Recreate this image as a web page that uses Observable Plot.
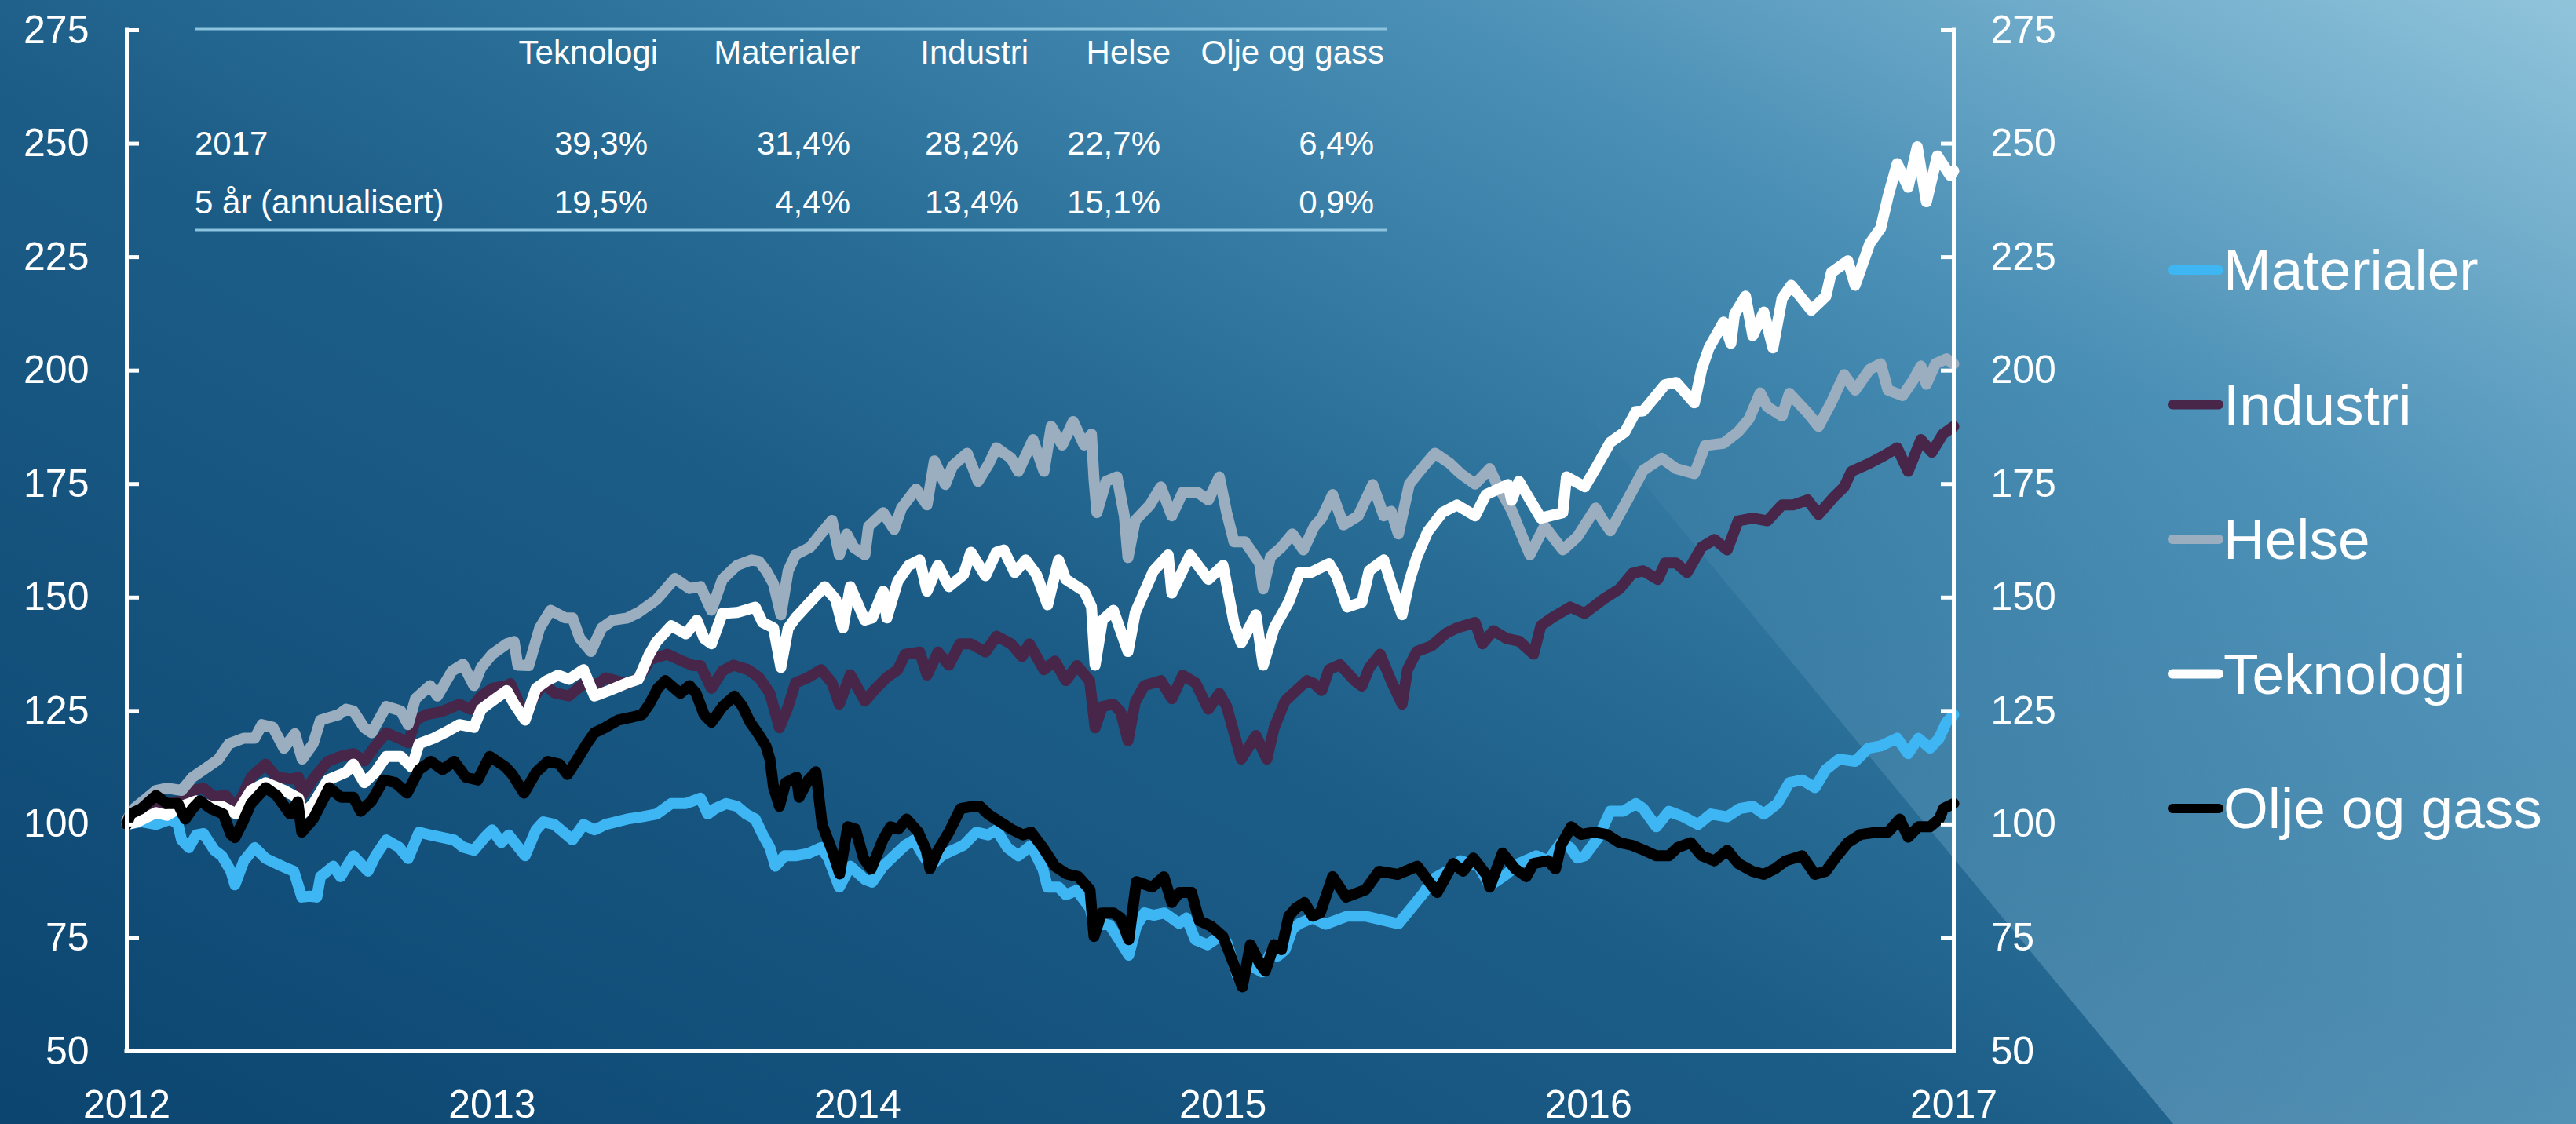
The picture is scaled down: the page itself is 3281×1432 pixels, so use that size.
<!DOCTYPE html>
<html>
<head>
<meta charset="utf-8">
<script src="https://cdn.jsdelivr.net/npm/d3@7"></script>
<script src="https://cdn.jsdelivr.net/npm/@observablehq/plot@0.6"></script>
<style>
html, body { margin: 0; padding: 0; }
body { width: 3281px; height: 1432px; overflow: hidden; }
#wrap {
  position: relative; width: 3281px; height: 1432px;
  background: linear-gradient(28deg, #0b4570 0%, #1c5d87 42%, #2a6f98 55%, #4a8fb6 75%, #90c4db 100%);
  font-family: "Liberation Sans", Arial, sans-serif;
}
#shade {
  position: absolute; left: 0; top: 0; width: 3281px; height: 1432px;
  clip-path: polygon(1585px 0px, 3281px 0px, 3281px 1432px, 2768px 1432px);
  background: linear-gradient(to bottom, rgba(150,200,228,0) 35%, rgba(150,200,228,0.38) 100%);
}
#chart, #overlay { position: absolute; left: 0; top: 0; }
</style>
</head>
<body>
<div id="wrap">
  <div id="shade"></div>
  <div id="chart"></div>
  <svg id="overlay" width="3281" height="1432"></svg>
</div>
<script>
// ---------- data ----------
const seriesNames = ["Materialer", "Industri", "Helse", "Teknologi", "Olje og gass"];
const seriesColors = ["#3fb6f4", "#47264a", "#9aaec0", "#ffffff", "#000000"];

const yTicks = [50, 75, 100, 125, 150, 175, 200, 225, 250, 275];
const xTicks = [2012, 2013, 2014, 2015, 2016, 2017];

const tableColumns = ["Teknologi", "Materialer", "Industri", "Helse", "Olje og gass"];
const tableRowLabels = ["2017", "5 år (annualisert)"];
const row2017 = ["39,3%", "31,4%", "28,2%", "22,7%", "6,4%"];
const row5aar = ["19,5%", "4,4%", "13,4%", "15,1%", "0,9%"];

const materialer = [[2012.00,100],[2012.04,100.6],[2012.08,100],[2012.12,101.2],[2012.14,100],[2012.15,96.6],[2012.17,94.9],[2012.19,97.7],[2012.21,98],[2012.24,94.3],[2012.26,93.1],[2012.285,89.7],[2012.296,86.7],[2012.32,91.9],[2012.35,94.9],[2012.38,92.5],[2012.425,90.8],[2012.457,89.7],[2012.479,84],[2012.50,84.2],[2012.52,84],[2012.53,88.5],[2012.565,90.8],[2012.585,88.5],[2012.62,93.1],[2012.66,89.7],[2012.68,93],[2012.71,96.6],[2012.745,95],[2012.77,92.5],[2012.80,98.3],[2012.83,97.7],[2012.86,97.2],[2012.895,96.6],[2012.92,95],[2012.95,94.3],[2012.98,97.2],[2013.00,98.8],[2013.025,96],[2013.045,97.7],[2013.09,93.1],[2013.12,98.8],[2013.14,100.6],[2013.17,100],[2013.195,98.3],[2013.22,96.6],[2013.25,100],[2013.28,98.8],[2013.31,100],[2013.37,101.2],[2013.41,101.7],[2013.45,102.3],[2013.49,104.6],[2013.53,104.6],[2013.55,105.2],[2013.57,105.8],[2013.59,102.3],[2013.61,103.5],[2013.64,104.6],[2013.67,104],[2013.695,102.3],[2013.72,101.2],[2013.74,97.8],[2013.76,94.9],[2013.775,90.8],[2013.80,93.1],[2013.83,93.1],[2013.865,93.6],[2013.90,94.9],[2013.92,92.6],[2013.95,86.2],[2013.98,90.8],[2014.02,87.9],[2014.04,87.3],[2014.07,90.8],[2014.10,93.1],[2014.13,95.4],[2014.155,96.6],[2014.18,93.1],[2014.20,90.8],[2014.23,93.1],[2014.26,94.3],[2014.29,95.4],[2014.325,98.3],[2014.357,97.7],[2014.38,98.8],[2014.41,94.9],[2014.44,93.1],[2014.475,95.4],[2014.507,90.2],[2014.52,86.2],[2014.55,86.2],[2014.57,84.5],[2014.60,85.5],[2014.636,81.6],[2014.65,77],[2014.67,78.2],[2014.69,77.8],[2014.72,74.1],[2014.742,71.2],[2014.763,77.6],[2014.785,80.5],[2014.81,80],[2014.84,80.5],[2014.88,78.2],[2014.90,79.4],[2014.924,74.6],[2014.957,73.5],[2014.99,75.3],[2015.01,74.1],[2015.04,66.5],[2015.075,68.9],[2015.107,67.5],[2015.127,71.2],[2015.15,71],[2015.17,72.4],[2015.19,77],[2015.21,78.2],[2015.245,79.4],[2015.28,78],[2015.34,79.8],[2015.39,79.8],[2015.48,78.1],[2015.55,85],[2015.573,87.9],[2015.62,90],[2015.65,92],[2015.70,90.8],[2015.73,86.5],[2015.775,89],[2015.81,91.4],[2015.857,93.1],[2015.89,92],[2015.925,96],[2015.95,94.9],[2015.97,92.6],[2015.99,93.1],[2016.027,97.1],[2016.06,102.9],[2016.095,102.9],[2016.13,104.6],[2016.15,103.5],[2016.186,99.5],[2016.22,102.9],[2016.26,101.7],[2016.30,100],[2016.335,102.3],[2016.38,101.7],[2016.414,103.5],[2016.45,104],[2016.48,102.3],[2016.517,104.6],[2016.55,109.2],[2016.585,109.8],[2016.62,108.1],[2016.65,112.1],[2016.686,114.4],[2016.73,113.9],[2016.766,116.8],[2016.80,117.3],[2016.845,119],[2016.875,115.6],[2016.903,119],[2016.935,116.8],[2016.96,119],[2016.98,122.5],[2017.00,124.2]];

const industri = [[2012.00,101.2],[2012.04,102],[2012.08,104],[2012.15,105.2],[2012.18,107.5],[2012.21,108],[2012.24,106],[2012.27,106.5],[2012.30,103.5],[2012.34,110.4],[2012.38,113.3],[2012.41,110.4],[2012.45,110],[2012.47,110.4],[2012.48,106.4],[2012.51,110],[2012.55,113.9],[2012.585,115],[2012.62,115.6],[2012.65,114],[2012.68,117.3],[2012.71,120.2],[2012.745,119],[2012.77,118],[2012.79,123],[2012.82,124.2],[2012.86,124.8],[2012.91,126.5],[2012.94,125.4],[2012.97,128.3],[2013.00,130],[2013.04,130.6],[2013.05,131],[2013.09,123.7],[2013.11,127.5],[2013.14,131],[2013.17,129],[2013.21,128.3],[2013.25,131],[2013.29,131],[2013.31,132.3],[2013.37,131],[2013.40,132.3],[2013.42,134.6],[2013.43,136.3],[2013.45,136.8],[2013.48,137.5],[2013.52,136],[2013.55,135],[2013.57,135],[2013.60,130],[2013.63,133.8],[2013.66,135.1],[2013.70,134.1],[2013.73,132.4],[2013.76,128.9],[2013.786,121.3],[2013.81,126],[2013.83,131.2],[2013.865,132.4],[2013.90,134.1],[2013.93,131.2],[2013.95,126.5],[2013.98,133],[2014.02,127.2],[2014.05,130],[2014.08,132.4],[2014.11,134.1],[2014.13,137.5],[2014.17,138],[2014.19,132.9],[2014.22,138],[2014.25,135.1],[2014.28,139.8],[2014.31,139.8],[2014.35,138],[2014.38,141.5],[2014.42,139.8],[2014.45,137],[2014.47,139.8],[2014.51,134.1],[2014.54,136],[2014.57,131.7],[2014.60,135],[2014.635,131.7],[2014.65,121.3],[2014.67,126],[2014.70,126.5],[2014.72,124.8],[2014.74,118.5],[2014.76,127],[2014.785,130.6],[2014.83,131.7],[2014.86,127.7],[2014.89,132.9],[2014.925,131.2],[2014.96,125.4],[2014.99,128.9],[2015.01,126],[2015.03,120.2],[2015.05,114.4],[2015.09,119.6],[2015.12,114.4],[2015.14,121.3],[2015.17,127.2],[2015.20,129.5],[2015.23,131.7],[2015.25,131],[2015.27,129.5],[2015.29,134.1],[2015.32,135.2],[2015.36,131.7],[2015.38,130.5],[2015.40,134.5],[2015.43,137.5],[2015.46,131.7],[2015.49,126.5],[2015.505,134.1],[2015.53,138.1],[2015.57,139.3],[2015.61,142.1],[2015.64,143.3],[2015.69,144.5],[2015.71,139.8],[2015.74,142.7],[2015.775,141],[2015.81,140.4],[2015.85,137.5],[2015.87,143.8],[2015.90,145.5],[2015.95,147.9],[2015.99,146.5],[2016.04,149.6],[2016.085,151.9],[2016.12,155.3],[2016.15,155.9],[2016.19,154],[2016.21,157.6],[2016.24,157.6],[2016.27,155.5],[2016.31,161.1],[2016.345,162.8],[2016.38,160.5],[2016.41,166.9],[2016.45,167.5],[2016.49,166.9],[2016.53,170.4],[2016.56,170.4],[2016.60,171.5],[2016.63,168.3],[2016.67,172],[2016.70,174.4],[2016.72,177.8],[2016.77,179.6],[2016.81,181.3],[2016.845,183],[2016.875,177.8],[2016.91,184.8],[2016.94,182],[2016.97,186],[2017.00,187.7]];

const helse = [[2012.00,101],[2012.02,103.5],[2012.08,107.5],[2012.11,108],[2012.15,107.5],[2012.18,110.4],[2012.22,112.6],[2012.25,114.3],[2012.28,117.8],[2012.32,119],[2012.35,119],[2012.37,122],[2012.40,121.4],[2012.43,116.8],[2012.46,120],[2012.48,114.4],[2012.51,117.8],[2012.53,123],[2012.58,124.2],[2012.60,125.4],[2012.62,125],[2012.65,121.3],[2012.67,120.2],[2012.71,126],[2012.75,125],[2012.77,122],[2012.79,127.7],[2012.83,130.6],[2012.85,128.3],[2012.89,133.8],[2012.92,135.3],[2012.95,130.6],[2012.97,134.6],[2013.00,137.5],[2013.04,139.8],[2013.06,140.3],[2013.07,135.1],[2013.10,135],[2013.13,143.3],[2013.16,147.2],[2013.20,145.5],[2013.22,145.5],[2013.24,141],[2013.27,138.1],[2013.30,143.3],[2013.33,145],[2013.37,145.5],[2013.40,146.7],[2013.43,148.4],[2013.45,149.6],[2013.47,151.4],[2013.50,154.2],[2013.54,152],[2013.57,152.4],[2013.60,147.2],[2013.63,154],[2013.67,157.1],[2013.71,158.3],[2013.73,158],[2013.75,155.9],[2013.77,153],[2013.79,146.2],[2013.81,155.9],[2013.83,159.4],[2013.87,161.1],[2013.90,164.1],[2013.93,167],[2013.95,159.4],[2013.97,164],[2013.99,161],[2014.02,159.4],[2014.03,165.7],[2014.07,168.7],[2014.10,165],[2014.12,169.7],[2014.16,173.9],[2014.19,170.4],[2014.21,180.1],[2014.24,174.9],[2014.26,179],[2014.30,181.8],[2014.33,175.6],[2014.36,179.6],[2014.38,183],[2014.42,180.7],[2014.44,177.8],[2014.48,184.8],[2014.51,177.8],[2014.53,187.7],[2014.56,183.6],[2014.59,188.8],[2014.62,183.6],[2014.64,186],[2014.647,176.1],[2014.655,168.7],[2014.68,175.6],[2014.71,176.6],[2014.73,168],[2014.74,158.8],[2014.76,167],[2014.80,170.4],[2014.83,174.4],[2014.86,168],[2014.89,173.2],[2014.93,173.2],[2014.96,171.5],[2014.99,176.6],[2015.01,168.7],[2015.03,162.3],[2015.06,162.3],[2015.10,157.6],[2015.11,151.9],[2015.13,159],[2015.16,161.1],[2015.19,164],[2015.22,160.5],[2015.25,165.7],[2015.27,167.5],[2015.30,172.7],[2015.33,166],[2015.37,168],[2015.41,174.9],[2015.44,168],[2015.46,169],[2015.48,164],[2015.51,175],[2015.55,179],[2015.58,181.8],[2015.62,179.6],[2015.65,177.3],[2015.69,175],[2015.73,178.4],[2015.75,174.9],[2015.77,172.1],[2015.79,169.2],[2015.81,165.2],[2015.84,159.4],[2015.88,165.7],[2015.93,160.5],[2015.97,163.4],[2016.02,169.7],[2016.04,167],[2016.06,164.7],[2016.11,172],[2016.15,178],[2016.20,180.7],[2016.24,178.4],[2016.29,177.3],[2016.32,183.5],[2016.37,184],[2016.41,186.5],[2016.44,189.4],[2016.47,195.1],[2016.49,192],[2016.53,190],[2016.55,195],[2016.60,190.7],[2016.63,187.7],[2016.665,193],[2016.70,199.1],[2016.73,195.7],[2016.77,200.3],[2016.80,201.5],[2016.82,195.7],[2016.86,194.5],[2016.89,198],[2016.91,201],[2016.925,197],[2016.95,201.5],[2016.98,202.6],[2017.00,201.5]];

const teknologi = [[2012.00,100],[2012.03,100.6],[2012.08,102.6],[2012.11,102],[2012.15,104],[2012.19,105.2],[2012.23,104],[2012.26,104],[2012.30,102.3],[2012.34,107.5],[2012.38,109.2],[2012.43,107.5],[2012.47,105.8],[2012.48,102.3],[2012.51,104.5],[2012.55,109.8],[2012.60,111.5],[2012.62,113.3],[2012.65,109.2],[2012.68,111.5],[2012.71,115],[2012.75,115],[2012.78,112.6],[2012.80,117.8],[2012.84,119],[2012.87,120.2],[2012.91,122],[2012.95,121.4],[2012.97,125.4],[2013.00,127.2],[2013.04,129.5],[2013.06,126.6],[2013.09,123],[2013.12,130],[2013.15,131.7],[2013.18,132.9],[2013.21,132],[2013.25,134.1],[2013.28,128.3],[2013.32,129.5],[2013.37,131.2],[2013.40,132],[2013.43,137.5],[2013.45,140.3],[2013.49,143.8],[2013.53,142],[2013.56,145],[2013.58,141],[2013.60,139.8],[2013.63,146.5],[2013.67,146.7],[2013.72,147.9],[2013.74,144.5],[2013.77,143.3],[2013.79,134.6],[2013.81,143.3],[2013.83,145.5],[2013.87,149],[2013.91,152.4],[2013.94,149.6],[2013.96,143.3],[2013.98,152.4],[2014.02,145],[2014.04,145.5],[2014.07,151.4],[2014.08,145.5],[2014.11,153.6],[2014.14,157.1],[2014.17,158.3],[2014.19,151.4],[2014.22,157.1],[2014.25,152.4],[2014.29,155],[2014.31,160],[2014.35,154.8],[2014.38,160],[2014.40,160.5],[2014.43,155.5],[2014.46,158.3],[2014.49,155],[2014.52,148.4],[2014.55,158.3],[2014.57,154],[2014.62,151.4],[2014.64,148],[2014.65,135.1],[2014.67,145],[2014.70,147.2],[2014.74,138.1],[2014.76,146.7],[2014.81,155.9],[2014.85,159.4],[2014.86,151],[2014.91,159.4],[2014.96,154],[2015.00,157.1],[2015.03,144.5],[2015.05,140],[2015.09,146.2],[2015.11,135.1],[2015.14,143.3],[2015.18,149],[2015.21,155.5],[2015.24,155.5],[2015.29,157.5],[2015.31,154.8],[2015.34,147.9],[2015.38,149],[2015.40,155.9],[2015.44,158.3],[2015.46,153.1],[2015.49,146.2],[2015.51,153.6],[2015.53,158.8],[2015.56,164.5],[2015.60,168.7],[2015.64,170.4],[2015.69,168],[2015.72,172.7],[2015.78,174.9],[2015.79,171.4],[2015.81,175.6],[2015.87,167.5],[2015.93,168.7],[2015.94,176.6],[2015.99,174.4],[2016.02,178.5],[2016.06,184.2],[2016.10,186.5],[2016.13,191],[2016.15,191.1],[2016.21,196.9],[2016.24,197.4],[2016.29,192.9],[2016.31,200.3],[2016.33,205],[2016.37,210.7],[2016.39,206],[2016.40,212.4],[2016.43,216.4],[2016.45,207.7],[2016.48,212.9],[2016.505,205],[2016.53,215.9],[2016.555,218.8],[2016.61,213.3],[2016.65,216.4],[2016.665,221.6],[2016.71,224.2],[2016.73,218.8],[2016.77,228],[2016.80,231.4],[2016.82,238.3],[2016.845,245.6],[2016.875,240.4],[2016.90,249.3],[2016.925,237.2],[2016.955,247.3],[2016.99,243],[2017.00,244]];

const oljeOgGass = [[2012.00,100],[2012.01,102.3],[2012.04,103.5],[2012.08,106.4],[2012.11,104.6],[2012.14,104.6],[2012.16,101.2],[2012.18,103.5],[2012.20,105.2],[2012.23,103.5],[2012.264,102.3],[2012.285,97.8],[2012.296,97.1],[2012.318,100.6],[2012.34,104.6],[2012.38,108.1],[2012.41,106.4],[2012.447,102.3],[2012.468,105],[2012.479,98.3],[2012.51,101.2],[2012.554,108.1],[2012.586,106],[2012.62,106],[2012.64,102.9],[2012.67,105.2],[2012.703,109.8],[2012.735,109.2],[2012.767,106.9],[2012.80,112.1],[2012.832,113.9],[2012.864,112.1],[2012.896,113.9],[2012.928,110.4],[2012.96,109.8],[2012.993,115],[2013.036,112.7],[2013.055,111],[2013.087,106.9],[2013.12,111.5],[2013.152,113.9],[2013.184,113.3],[2013.206,111],[2013.238,115],[2013.259,117.8],[2013.28,120.2],[2013.31,121.4],[2013.345,123],[2013.38,123.6],[2013.41,124.2],[2013.43,126.5],[2013.453,130],[2013.474,131.7],[2013.49,130.6],[2013.515,128.9],[2013.54,130.6],[2013.558,128.9],[2013.58,124.2],[2013.60,122.5],[2013.631,126],[2013.663,128.3],[2013.685,126],[2013.706,122.5],[2013.728,120],[2013.749,117.3],[2013.76,114.4],[2013.77,108.2],[2013.786,104],[2013.803,109.2],[2013.833,110.4],[2013.84,106],[2013.865,109.8],[2013.886,111.6],[2013.903,100],[2013.93,94.3],[2013.951,89.1],[2013.973,99.5],[2013.994,99],[2014.016,92.6],[2014.037,90.2],[2014.069,96.6],[2014.09,99.5],[2014.112,99],[2014.134,101.2],[2014.166,98.3],[2014.188,94.3],[2014.198,90.2],[2014.22,94.3],[2014.25,98.3],[2014.282,103.5],[2014.314,104],[2014.335,104],[2014.357,102.3],[2014.389,100.6],[2014.42,99],[2014.453,97.7],[2014.475,98.3],[2014.507,94.9],[2014.54,90.8],[2014.572,89.1],[2014.604,88.5],[2014.636,85.6],[2014.647,75.3],[2014.668,80.5],[2014.70,80.5],[2014.72,79.4],[2014.742,74.6],[2014.763,87.4],[2014.785,86.8],[2014.806,86.2],[2014.838,88.5],[2014.86,82.8],[2014.88,85],[2014.914,85],[2014.935,78.8],[2014.967,77.6],[2015.00,75.3],[2015.02,71.2],[2015.053,64.2],[2015.075,73.5],[2015.10,69.5],[2015.116,67.7],[2015.14,73.5],[2015.16,72.4],[2015.18,79.8],[2015.20,81.6],[2015.223,82.8],[2015.245,79.8],[2015.266,80.5],[2015.30,88.5],[2015.337,84],[2015.39,85.6],[2015.427,89.7],[2015.478,89],[2015.532,90.8],[2015.586,85],[2015.63,91.4],[2015.657,89.7],[2015.685,92.6],[2015.72,89],[2015.73,86.2],[2015.765,93.7],[2015.80,90.2],[2015.83,88.5],[2015.85,91.4],[2015.89,92],[2015.91,90.2],[2015.925,95.4],[2015.953,99.5],[2015.98,97.8],[2016.016,98.3],[2016.05,97.8],[2016.085,96],[2016.12,95.4],[2016.153,94.3],[2016.186,93.1],[2016.22,93.1],[2016.244,94.9],[2016.28,96],[2016.31,93.1],[2016.345,92],[2016.38,94.3],[2016.41,91.4],[2016.448,89.7],[2016.48,89],[2016.51,90.2],[2016.54,92],[2016.585,93.1],[2016.62,89],[2016.65,89.7],[2016.676,92.6],[2016.71,96],[2016.745,97.8],[2016.79,98.3],[2016.82,98.3],[2016.852,101.2],[2016.875,97.2],[2016.903,99.5],[2016.935,99.5],[2016.96,101.2],[2016.972,103.5],[2017.00,104.6]];

const seriesData = [materialer, industri, helse, teknologi, oljeOgGass];

// ---------- build ----------
const rows = seriesNames.flatMap((name, i) => seriesData[i].map(([t, v]) => ({series: name, t, v})));

const W = 3281, H = 1432;
const mL = 161, mR = 793, mT = 38, mB = 93;
const plotW = W - mL - mR;
const font = '"Liberation Sans", Arial, sans-serif';

const chart = Plot.plot({
  width: W, height: H,
  marginLeft: mL, marginRight: mR, marginTop: mT, marginBottom: mB,
  style: {background: "transparent", color: "white", fontFamily: font, overflow: "visible"},
  x: {type: "linear", domain: [2012, 2017], axis: null},
  y: {type: "linear", domain: [50, 275], axis: null},
  color: {domain: seriesNames, range: seriesColors},
  marks: [
    Plot.line(rows, {x: "t", y: "v", z: "series", stroke: "series", strokeWidth: 14, strokeLinejoin: "round", strokeLinecap: "round"}),
    Plot.ruleX([2012, 2017], {stroke: "white", strokeWidth: 5, strokeLinecap: "square"}),
    Plot.ruleY([50], {stroke: "white", strokeWidth: 5, strokeLinecap: "square"}),
    Plot.tickY(yTicks, {y: d => d, stroke: "white", strokeWidth: 5, insetRight: plotW - 16}),
    Plot.tickY(yTicks, {y: d => d, stroke: "white", strokeWidth: 5, insetLeft: plotW - 16}),
    Plot.axisY({anchor: "left", ticks: yTicks, tickSize: 0, tickPadding: 48, fontSize: 50, label: null, tickFormat: d => String(d)}),
    Plot.axisY({anchor: "right", ticks: yTicks, tickSize: 0, tickPadding: 47, fontSize: 50, label: null, tickFormat: d => String(d)}),
    Plot.axisX({anchor: "bottom", ticks: xTicks, tickSize: 0, tickPadding: 49, fontSize: 50, label: null, tickFormat: d => String(d)})
  ]
});
document.getElementById("chart").appendChild(chart);

// ---------- table and legend overlay ----------
const svg = d3.select("#overlay").style("font-family", font);

const tbl = svg.append("g").attr("fill", "white").attr("font-size", 42);
const tableLeft = 248, tableRight = 1766;
[37, 293].forEach(y => {
  tbl.append("line").attr("x1", tableLeft).attr("x2", tableRight).attr("y1", y).attr("y2", y)
    .attr("stroke", "#8cc3de").attr("stroke-width", 3);
});
const colRight = [838, 1096, 1310, 1491, 1763];
tableColumns.forEach((c, i) => {
  tbl.append("text").attr("x", colRight[i]).attr("y", 81).attr("text-anchor", "end").text(c);
});
const rowBase = [197, 272];
tableRowLabels.forEach((r, j) => {
  tbl.append("text").attr("x", tableLeft).attr("y", rowBase[j]).text(r);
});
[row2017, row5aar].forEach((vals, j) => {
  vals.forEach((v, i) => {
    tbl.append("text").attr("x", colRight[i] - 13).attr("y", rowBase[j]).attr("text-anchor", "end").text(v);
  });
});

const leg = svg.append("g");
seriesNames.forEach((name, i) => {
  const cy = 344 + i * 171.5;
  leg.append("line").attr("x1", 2767).attr("x2", 2826).attr("y1", cy).attr("y2", cy)
    .attr("stroke", seriesColors[i]).attr("stroke-width", 12).attr("stroke-linecap", "round");
  leg.append("text").attr("x", 2832).attr("y", cy + 25).attr("font-size", 73).attr("fill", "white").text(name);
});
</script>
</body>
</html>
